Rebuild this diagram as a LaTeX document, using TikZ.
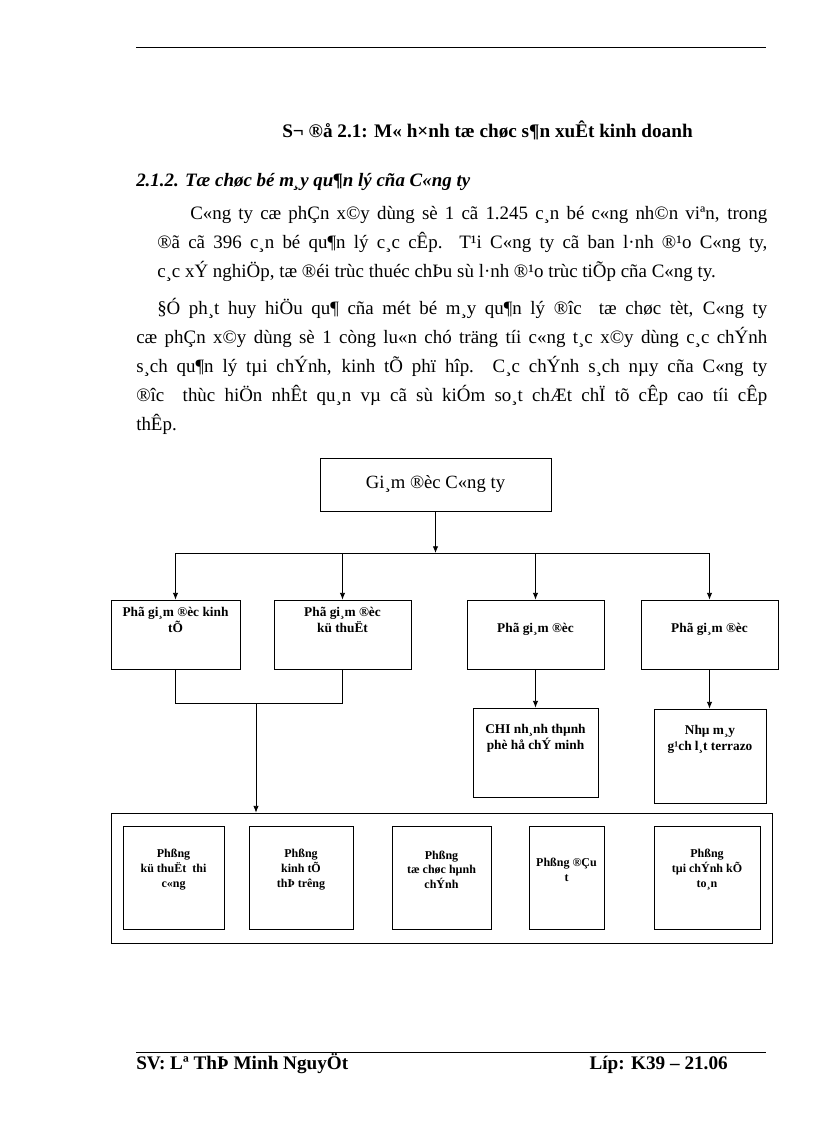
\documentclass[tikz,border=0pt]{standalone}
\usepackage{fontspec}
\setmainfont{Liberation Serif}
\usetikzlibrary{arrows.meta}

\begin{document}
\begin{tikzpicture}[x=0.75pt, y=-0.75pt,
    box/.style = {draw, line width=0.6pt, inner sep=0pt},
    lbl/.style = {align=center, inner sep=0pt, font=\bfseries\fontsize{10}{12}\selectfont},
    small/.style = {align=center, inner sep=0pt, font=\bfseries\fontsize{9}{11}\selectfont},
    body/.style = {anchor=base west, inner sep=0pt, align=justify, font=\fontsize{14.2}{21.75}\selectfont},
    arr/.style = {-{Latex[length=5pt,width=4pt]}, line width=0.6pt}]
    \useasboundingbox (0,0) rectangle (816,1123);
    \draw[line width=0.6pt] (136,47) -- (766,47);
    \draw[line width=0.6pt] (136,1052) -- (766,1052);

    \node[anchor=base, inner sep=0pt, font=\bfseries\fontsize{14.4}{16}\selectfont] (title) at (487.5,138) {S¬ ®å 2.1: M« h×nh tæ chøc s¶n xuÊt kinh doanh};
    \node[anchor=base west, inner sep=0pt, font=\bfseries\itshape\fontsize{14.2}{16}\selectfont] (head) at (136,187) {2.1.2. Tæ chøc bé m¸y qu¶n lý cña C«ng ty};
    \node[body, text width=457.5pt] (para1) at (157,219.5) {\hspace*{24.75pt}C«ng ty cæ phÇn x©y dùng sè 1 cã 1.245 c¸n bé c«ng nh©n viªn, trong\linebreak
        ®ã cã 396 c¸n bé qu¶n lý c¸c cÊp. T¹i C«ng ty cã ban l·nh ®¹o C«ng ty,\linebreak
        c¸c xÝ nghiÖp, tæ ®éi trùc thuéc chÞu sù l·nh ®¹o trùc tiÕp cña C«ng ty.};
    \node[body, text width=473.25pt] (para2) at (136,314) {\hspace*{15.75pt}§Ó ph¸t huy hiÖu qu¶ cña mét bé m¸y qu¶n lý ®îc \ tæ chøc tèt, C«ng ty\linebreak
        cæ phÇn x©y dùng sè 1 còng lu«n chó träng tíi c«ng t¸c x©y dùng c¸c chÝnh\linebreak
        s¸ch qu¶n lý tµi chÝnh, kinh tÕ phï hîp. C¸c chÝnh s¸ch nµy cña C«ng ty\linebreak
        ®îc \ thùc hiÖn nhÊt qu¸n vµ cã sù kiÓm so¸t chÆt chÏ tõ cÊp cao tíi cÊp\linebreak
        thÊp.};

    % chart
    \node[box, minimum width=173.25pt, minimum height=39.75pt, font=\fontsize{14}{16}\selectfont] (gd) at (435.5,484.5) {Gi¸m ®èc C«ng ty};
    \node[box, minimum width=96.75pt, minimum height=51.75pt] (pg1) at (175.5,634.5) {};
    \node[box, minimum width=102.75pt, minimum height=51.75pt] (pg2) at (342.5,634.5) {};
    \node[box, minimum width=102.75pt, minimum height=51.75pt] (pg3) at (535.5,634.5) {};
    \node[box, minimum width=102.75pt, minimum height=51.75pt] (pg4) at (709.5,634.5) {};
    \node[lbl] (pg1t) at (175.5,620) {Phã gi¸m ®èc kinh\\tÕ};
    \node[lbl] (pg2t) at (342.5,620) {Phã gi¸m ®èc\\kü thuËt};
    \node[lbl] (pg3t) at (535.5,629) {Phã gi¸m ®èc};
    \node[lbl] (pg4t) at (709.5,629) {Phã gi¸m ®èc};

    \node[box, minimum width=93.75pt, minimum height=66.75pt] (cn) at (535.5,752.5) {};
    \node[box, minimum width=84pt, minimum height=70.5pt] (nm) at (710,756) {};
    \node[lbl] (cnt) at (535.5,738.5) {CHI nh¸nh thµnh\\phè hå chÝ minh};
    \node[lbl] (nmt) at (710,739) {Nhµ m¸y\\g¹ch l¸t terrazo};

    \node[box, minimum width=495.75pt, minimum height=97.5pt] (phong) at (441.5,878) {};
    \node[box, minimum width=75.75pt, minimum height=77.25pt] (p1) at (173.5,877.5) {};
    \node[box, minimum width=78pt, minimum height=77.25pt] (p2) at (301,877.5) {};
    \node[box, minimum width=74.25pt, minimum height=77.25pt] (p3) at (441.5,877.5) {};
    \node[box, minimum width=56.25pt, minimum height=77.25pt] (p4) at (566.5,877.5) {};
    \node[box, minimum width=79.5pt, minimum height=77.25pt] (p5) at (707,877.5) {};
    \node[small] (p1t) at (173.5,869.5) {Phßng\\kü thuËt \ thi\\c«ng};
    \node[small] (p2t) at (301,869.5) {Phßng\\kinh tÕ\\thÞ trêng};
    \node[small] (p3t) at (441.5,869.5) {Phßng\\tæ chøc hµnh\\chÝnh};
    \node[small] (p4t) at (566.5,870) {Phßng ®Çu\\t};
    \node[small] (p5t) at (707,869.5) {Phßng\\tµi chÝnh kÕ\\to¸n};

    \coordinate (bus) at (435.5,553);
    \coordinate (join) at (256,703);
    \draw[arr] (gd.south) -- (bus);
    \draw[line width=0.6pt] (pg1.north |- bus) -- (pg4.north |- bus);
    \draw[arr] (pg1.north |- bus) -- (pg1.north);
    \draw[arr] (pg2.north |- bus) -- (pg2.north);
    \draw[arr] (pg3.north |- bus) -- (pg3.north);
    \draw[arr] (pg4.north |- bus) -- (pg4.north);
    \draw[line width=0.6pt] (pg1.south) -- (pg1.south |- join) -- (pg2.south |- join) -- (pg2.south);
    \draw[arr] (join) -- (join |- phong.north);
    \draw[arr] (pg3.south) -- (cn.north);
    \draw[arr] (pg4.south) -- (pg4.south |- nm.north);

    \node[anchor=base west, inner sep=0pt, font=\bfseries\fontsize{14.4}{16}\selectfont] (sv) at (136,1069) {SV: Lª ThÞ Minh NguyÖt};
    \node[anchor=base east, inner sep=0pt, font=\bfseries\fontsize{14.4}{16}\selectfont] (lop) at (728,1069) {Líp: K39 – 21.06};
\end{tikzpicture}
\end{document}
